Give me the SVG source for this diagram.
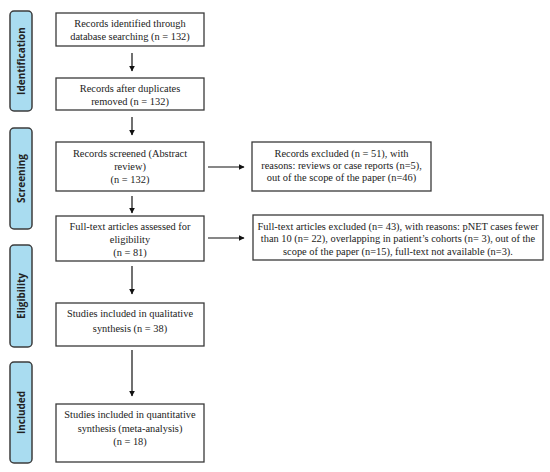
<svg xmlns="http://www.w3.org/2000/svg" width="550" height="472" viewBox="0 0 550 472">
<style>
.box{fill:#fff;stroke:#3a3a3a;stroke-width:1.3}
.side{fill:#a9dcf0;stroke:#3c3c3c;stroke-width:1.5}
.t{font-family:"Liberation Serif","Times New Roman",serif;font-size:10.4px;fill:#222;text-anchor:middle}
.s{font-family:"Open Sans","DejaVu Sans",sans-serif;font-size:10px;font-weight:bold;fill:#222;text-anchor:middle}
.c{stroke:#111;stroke-width:1.2;fill:none;marker-end:url(#ah)}
</style>
<defs>
<marker id="ah" viewBox="0 0 10 10" refX="9" refY="5" markerWidth="6" markerHeight="6" markerUnits="userSpaceOnUse" orient="auto">
<path d="M0,0 L10,5 L0,10 z" fill="#111"/>
</marker>
</defs>
<rect width="550" height="472" fill="#fff"/>
<g id="side-identification"><rect class="side" x="10" y="11" width="22" height="100" rx="4"/><text class="s" transform="translate(25,61) rotate(-90)">Identification</text></g>
<g id="side-screening"><rect class="side" x="10" y="128" width="22" height="101" rx="4"/><text class="s" transform="translate(25,178.5) rotate(-90)">Screening</text></g>
<g id="side-eligibility"><rect class="side" x="10" y="245" width="22" height="102" rx="4"/><text class="s" transform="translate(25,296) rotate(-90)">Eligibility</text></g>
<g id="side-included"><rect class="side" x="10" y="362" width="22" height="101" rx="4"/><text class="s" transform="translate(25,412.5) rotate(-90)">Included</text></g>

<g id="n1"><rect class="box" x="56" y="13" width="148" height="33"/><text class="t" x="130" y="27">Records identified through</text><text class="t" x="130" y="40">database searching (n = 132)</text></g>
<g id="n2"><rect class="box" x="56" y="78" width="148" height="32"/><text class="t" x="130" y="92">Records after duplicates</text><text class="t" x="130" y="105">removed (n = 132)</text></g>
<g id="n3"><rect class="box" x="56" y="142" width="148" height="49"/><text class="t" x="130" y="157">Records screened (Abstract</text><text class="t" x="130" y="170">review)</text><text class="t" x="130" y="183">(n = 132)</text></g>
<g id="n4"><rect class="box" x="252" y="142" width="179" height="49"/><text class="t" x="341.5" y="157">Records excluded (n = 51), with</text><text class="t" x="341.5" y="169">reasons: reviews or case reports (n=5),</text><text class="t" x="341.5" y="181">out of the scope of the paper (n=46)</text></g>
<g id="n5"><rect class="box" x="56" y="216" width="148" height="45"/><text class="t" x="130" y="230">Full-text articles assessed for</text><text class="t" x="130" y="243">eligibility</text><text class="t" x="130" y="256">(n = 81)</text></g>
<g id="n6"><rect class="box" x="253" y="215" width="290" height="45"/><text class="t" x="398" y="230">Full-text articles excluded (n= 43), with reasons: pNET cases fewer</text><text class="t" x="398" y="242">than 10 (n= 22), overlapping in patient’s cohorts (n= 3), out of the</text><text class="t" x="398" y="255">scope of the paper (n=15), full-text not available (n=3).</text></g>
<g id="n7"><rect class="box" x="56" y="303" width="148" height="43"/><text class="t" x="130" y="317">Studies included in qualitative</text><text class="t" x="130" y="332">synthesis (n = 38)</text></g>
<g id="n8"><rect class="box" x="56" y="404" width="148" height="58"/><text class="t" x="130" y="418">Studies included in quantitative</text><text class="t" x="130" y="432">synthesis (meta-analysis)</text><text class="t" x="130" y="445">(n = 18)</text></g>

<g id="connectors">
<line class="c" x1="132" y1="53" x2="132" y2="71"/>
<line class="c" x1="132" y1="117" x2="132" y2="135"/>
<line class="c" x1="132" y1="196" x2="132" y2="213"/>
<line class="c" x1="132" y1="266" x2="132" y2="294"/>
<line class="c" x1="132" y1="350" x2="132" y2="396"/>
<line class="c" x1="208" y1="167" x2="244" y2="167"/>
<line class="c" x1="208" y1="238" x2="244" y2="238"/>
</g>
</svg>
